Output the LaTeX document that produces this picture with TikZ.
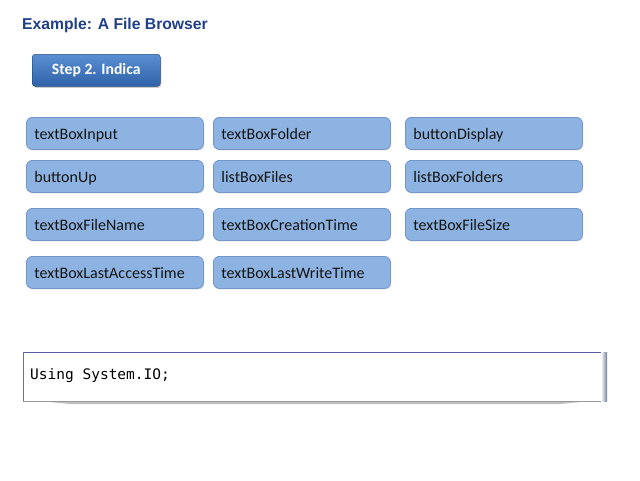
\documentclass[tikz,border=0pt]{standalone}
\usepackage{fontspec}
\setmainfont{Carlito}
\newfontfamily\titlefont{Liberation Sans}
\newfontfamily\codefont{DejaVu Sans Mono}
\usetikzlibrary{shadows}
\definecolor{titleblue}{HTML}{1F3F86}
\definecolor{boxfill}{HTML}{8DB3E2}
\definecolor{boxline}{HTML}{7396C8}
\definecolor{stepdark}{HTML}{2F62A8}
\definecolor{steplight}{HTML}{5B8FD3}
\definecolor{codeedge}{HTML}{6F7F99}
\begin{document}
\begin{tikzpicture}[x=1pt,y=-1pt,
  item/.style={draw=boxline, line width=0.8pt, fill=boxfill, rounded corners=6pt,
    minimum width=176pt, minimum height=32pt, text width=161pt, align=left,
    text height=13pt, text depth=1pt,
    font=\fontsize{16}{18}\selectfont, inner xsep=8pt, anchor=north west,
    text=black!92,
    drop shadow={shadow xshift=0.8pt, shadow yshift=-1pt, opacity=0.35}},
  stepbox/.style={rounded corners=3pt, top color=steplight, bottom color=stepdark,
    draw=stepdark!80!black, line width=0.5pt, minimum width=128pt, minimum height=32pt,
    text=white, font=\fontsize{15.7}{17}\selectfont\bfseries, anchor=north west,
    drop shadow={shadow xshift=1pt, shadow yshift=-1.5pt, opacity=0.4}}]
\useasboundingbox (0,0) rectangle (640,480);
\fill[white] (0,0) rectangle (640,480);
\node[anchor=west, text=titleblue, font=\titlefont\fontsize{15.7}{17}\selectfont\bfseries, inner sep=0pt] (title) at (22,25.5) {Example: A File Browser};
\node[stepbox] (step) at (32,54) {Step 2. Indica};
% column 1
\node[item] (b11) at (26,117) {textBoxInput};
\node[item] (b21) at (26,160) {buttonUp};
\node[item] (b31) at (26,208) {textBoxFileName};
\node[item] (b41) at (26,256) {textBoxLastAccessTime};
% column 2
\node[item] (b12) at (213,117) {textBoxFolder};
\node[item] (b22) at (213,160) {listBoxFiles};
\node[item] (b32) at (213,208) {textBoxCreationTime};
\node[item] (b42) at (213,256) {textBoxLastWriteTime};
% column 3
\node[item] (b13) at (405,117) {buttonDisplay};
\node[item] (b23) at (405,160) {listBoxFolders};
\node[item] (b33) at (405,208) {textBoxFileSize};
% code box
\fill[black!25] (40,401) -- (590,401) -- (560,404) -- (70,404) -- cycle;
\fill[white] (23,352) rectangle (607,401);
\draw[gray!70!blue, line width=0.6pt] (23,352) -- (607,352);
\draw[gray!80, line width=0.6pt] (23,401) -- (607,401);
\draw[black!55, line width=1pt] (23,352) -- (23,401);
\shade[left color=white, right color=codeedge] (601,352) rectangle (607,401);
\node[anchor=west, font=\codefont\fontsize{14.5}{16}\selectfont, inner sep=0pt] (code) at (30,375.5) {Using System.IO;};
\end{tikzpicture}
\end{document}
